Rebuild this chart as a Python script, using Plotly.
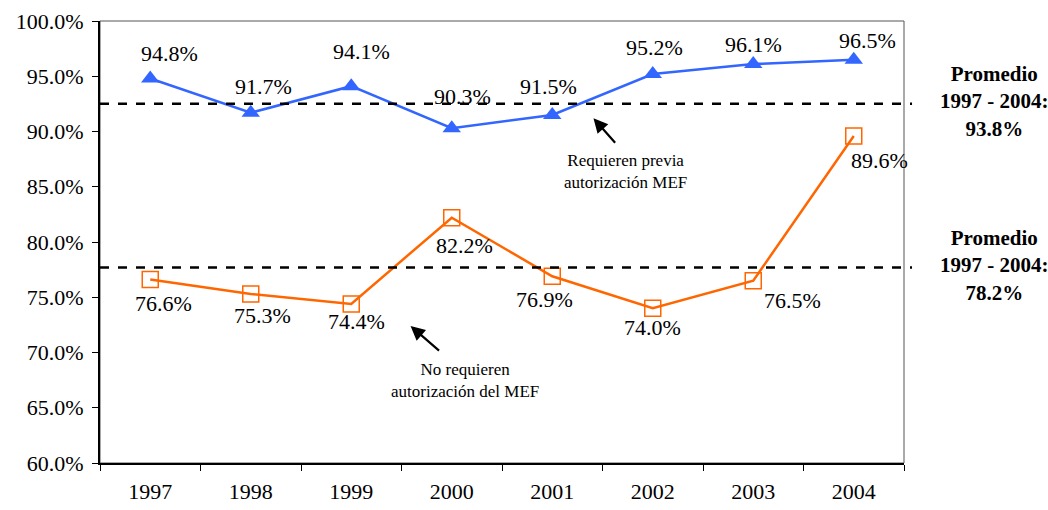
"""Line chart: share requiring / not requiring MEF authorization, 1997-2004."""
import plotly.graph_objects as go

YEARS = ["1997", "1998", "1999", "2000", "2001", "2002", "2003", "2004"]
REQUIEREN = [94.8, 91.7, 94.1, 90.3, 91.5, 95.2, 96.1, 96.5]
NO_REQUIEREN = [76.6, 75.3, 74.4, 82.2, 76.9, 74.0, 76.5, 89.6]
# dashed reference lines as drawn in the original
PROMEDIO_LINES = [92.5, 77.7]
PROMEDIO_TEXT = ["93.8%", "78.2%"]
Y_TICKS = [60, 65, 70, 75, 80, 85, 90, 95, 100]

BLUE = "#3366ff"
ORANGE = "#ff6600"
FONT = "Liberation Serif"

# label offsets (px) as placed in the original
BLUE_DX = [19, 13, 10, 11, -4, 2, 0, 14]
BLUE_DY = [25, 26, 35, 32, 28, 27, 20, 19]
ORANGE_DX = [13, 12, 5, 13, -8, 0, 39, 26]
ORANGE_DY = [-24, -22, -18, -28, -23, -19, -20, -25]

fig = go.Figure()

fig.add_trace(go.Scatter(
    x=list(range(len(YEARS))), y=REQUIEREN, mode="lines+markers",
    line=dict(color=BLUE, width=2.5),
    marker=dict(symbol="triangle-up", size=16, color=BLUE),
    hoverinfo="skip",
))
fig.add_trace(go.Scatter(
    x=list(range(len(YEARS))), y=NO_REQUIEREN, mode="lines+markers",
    line=dict(color=ORANGE, width=2.5),
    marker=dict(symbol="square-open", size=16, color=ORANGE, line=dict(width=1.5)),
    hoverinfo="skip",
))

# data labels
for i, (v, dx, dy) in enumerate(zip(REQUIEREN, BLUE_DX, BLUE_DY)):
    fig.add_annotation(x=i, y=v, text=f"{v:.1f}%", showarrow=False, xshift=dx, yshift=dy,
                       font=dict(family=FONT, size=22, color="black"))
for i, (v, dx, dy) in enumerate(zip(NO_REQUIEREN, ORANGE_DX, ORANGE_DY)):
    fig.add_annotation(x=i, y=v, text=f"{v:.1f}%", showarrow=False, xshift=dx, yshift=dy,
                       font=dict(family=FONT, size=22, color="black"))

# plot frame (thin top/right)
fig.add_shape(type="rect", xref="paper", yref="paper", x0=0, x1=1, y0=0, y1=1,
              line=dict(color="#555555", width=1), layer="below")

# average lines + side labels
for yv, txt in zip(PROMEDIO_LINES, PROMEDIO_TEXT):
    fig.add_shape(type="line", xref="paper", yref="y", x0=0, x1=1.01, y0=yv, y1=yv,
                  line=dict(color="black", width=2.5, dash="dash"))
    fig.add_annotation(xref="paper", yref="y", x=1.113, y=yv, yshift=2,
                       xanchor="center", yanchor="middle",
                       text=f"<b>Promedio<br>1997 - 2004:<br>{txt}</b>",
                       showarrow=False, align="center",
                       font=dict(family=FONT, size=21, color="black"))

# arrow notes
fig.add_annotation(x=4.41, y=91.2, ax=23, ay=26, axref="pixel", ayref="pixel",
                   showarrow=True, arrowhead=2, arrowsize=1.3, arrowwidth=2.2, arrowcolor="black",
                   text="")
fig.add_annotation(x=4.73, y=86.4, text="Requieren previa<br>autorización MEF",
                   showarrow=False, align="center",
                   font=dict(family=FONT, size=17, color="black"))
fig.add_annotation(x=2.59, y=72.4, ax=30, ay=26, axref="pixel", ayref="pixel",
                   showarrow=True, arrowhead=2, arrowsize=1.3, arrowwidth=2.2, arrowcolor="black",
                   text="")
fig.add_annotation(x=3.13, y=67.5, text="No requieren<br>autorización del MEF",
                   showarrow=False, align="center",
                   font=dict(family=FONT, size=17, color="black"))

fig.update_layout(
    width=1048, height=510,
    margin=dict(l=100, r=144, t=21, b=47),
    paper_bgcolor="white", plot_bgcolor="white",
    showlegend=False,
    xaxis=dict(
        range=[-0.5, 7.5], tickvals=list(range(len(YEARS))), ticktext=YEARS,
        showline=True, linecolor="black", linewidth=2, automargin=False,
        ticks="", showgrid=False, zeroline=False, ticklabelstandoff=8,
        minor=dict(tickvals=[i - 0.5 for i in range(len(YEARS) + 1)],
                   ticks="outside", ticklen=6, tickcolor="black"),
        tickfont=dict(family=FONT, size=22, color="black"),
    ),
    yaxis=dict(
        range=[60, 100], tickvals=Y_TICKS,
        ticktext=[f"{t:.1f}%" for t in Y_TICKS],
        showline=True, linecolor="black", linewidth=2, automargin=False,
        ticks="outside", ticklen=6, tickcolor="black",
        showgrid=False, zeroline=False, ticklabelstandoff=4,
        tickfont=dict(family=FONT, size=22, color="black"),
    ),
)

# drop the default page margin so the figure sits at the window's origin
fig.write_html("out.html", config={"displayModeBar": False},
               post_script="document.body.style.margin='0';")
